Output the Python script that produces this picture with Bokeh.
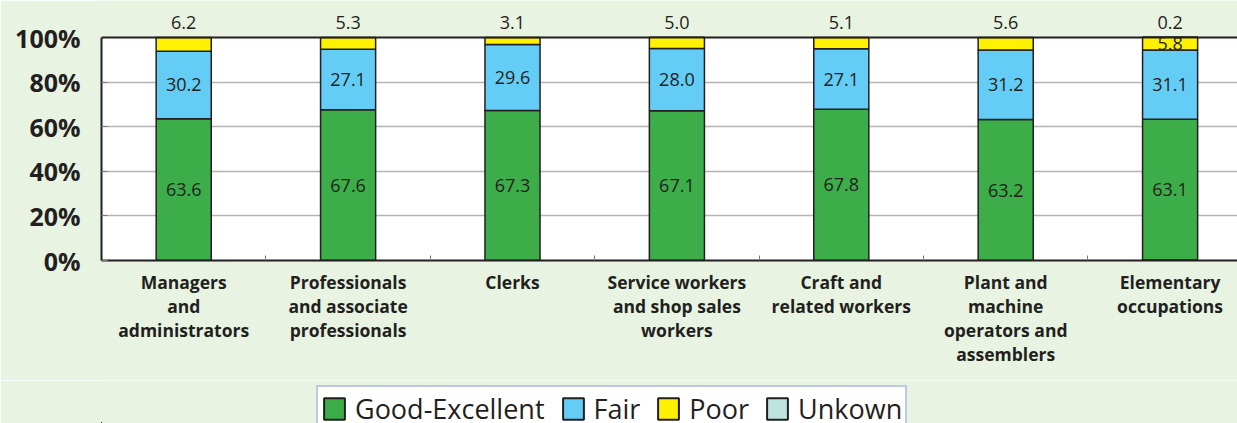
from bokeh.plotting import figure
from bokeh.layouts import column
from bokeh.models import (ColumnDataSource, FixedTicker, LabelSet, Legend, LegendItem,
                          Range1d, BoxAnnotation, Span)
from bokeh.core.properties import value
from bokeh.embed import file_html
from bokeh.resources import INLINE

# ---- data ----
categories = ["Managers\nand\nadministrators",
              "Professionals\nand associate\nprofessionals",
              "Clerks",
              "Service workers\nand shop sales\nworkers",
              "Craft and\nrelated workers",
              "Plant and\nmachine\noperators and\nassemblers",
              "Elementary\noccupations"]
good = [63.6, 67.6, 67.3, 67.1, 67.8, 63.2, 63.1]
fair = [30.2, 27.1, 29.6, 28.0, 27.1, 31.2, 31.1]
poor = [6.2, 5.3, 3.1, 5.0, 5.1, 5.6, 5.8]
unknown = [0.0, 0.0, 0.0, 0.0, 0.0, 0.0, 0.2]
series_names = ["Good-Excellent", "Fair", "Poor", "Unkown"]
y_ticks = [0, 20, 40, 60, 80, 100]
y_tick_labels = ["0%", "20%", "40%", "60%", "80%", "100%"]

BG = "#e8f3e2"
C_GOOD = "#3dad49"
C_FAIR = "#63cdf5"
C_POOR = "#fff200"
C_UNK = "#bfe4df"
DARK = "#231f20"
FONT = "Open Sans"

n = len(categories)
xs = [i + 0.5 for i in range(n)]
src = ColumnDataSource(dict(x=xs, good=good, fair=fair, poor=poor, unknown=unknown))

# frame spans canvas y 0..260; 100% sits 37px below the top
Y_TOP = 100 * 260 / 223
p = figure(width=1237, height=380, output_backend="svg", toolbar_location=None,
           x_range=Range1d(0, 6.91), y_range=Range1d(0, Y_TOP),
           min_border_left=101, min_border_top=0, min_border_right=0, min_border_bottom=120)
p.background_fill_color = BG
p.border_fill_color = BG
p.outline_line_color = None

# white plotting area 0..100 %
p.add_layout(BoxAnnotation(bottom=0, top=100, fill_color="white", fill_alpha=1,
                           line_color=None, level="image"))
p.add_layout(Span(location=100, dimension="width", line_color=DARK, line_width=2))

rs = p.vbar_stack(["unknown", "good", "fair", "poor"], x="x", width=0.335, source=src,
                  fill_color=[C_UNK, C_GOOD, C_FAIR, C_POOR], line_color=DARK, line_width=1.5)

# grid
p.xgrid.visible = False
p.ygrid.ticker = FixedTicker(ticks=[20, 40, 60, 80])
p.ygrid.grid_line_color = "#b4b4b4"
p.ygrid.grid_line_width = 1.5

# y axis
p.yaxis.ticker = FixedTicker(ticks=y_ticks)
p.yaxis.bounds = (0, 100)
p.yaxis.major_label_overrides = {t: l for t, l in zip(y_ticks, y_tick_labels)}
p.yaxis.major_label_text_font = FONT
p.yaxis.major_label_text_font_style = "bold"
p.yaxis.major_label_text_font_size = "25px"
p.yaxis.major_label_text_color = DARK
p.yaxis.major_label_standoff = 21
p.yaxis.major_tick_in = 6
p.yaxis.major_tick_out = 0
p.yaxis.major_tick_line_color = "#777777"
p.yaxis.minor_tick_line_color = None
p.yaxis.axis_line_color = DARK
p.yaxis.axis_line_width = 2

# x axis
p.xaxis.ticker = FixedTicker(ticks=xs, minor_ticks=[i for i in range(1, n)])
p.xaxis.major_label_overrides = {x: c for x, c in zip(xs, categories)}
p.xaxis.major_label_text_font = FONT
p.xaxis.major_label_text_font_style = "bold"
p.xaxis.major_label_text_font_size = "17.5px"
p.xaxis.major_label_text_color = DARK
p.xaxis.major_label_text_line_height = 1.0
p.xaxis.major_label_standoff = 9
p.xaxis.major_tick_in = 0
p.xaxis.major_tick_out = 0
p.xaxis.minor_tick_in = 5
p.xaxis.minor_tick_out = 0
p.xaxis.minor_tick_line_color = "#777777"
p.xaxis.axis_line_color = DARK
p.xaxis.axis_line_width = 2

# value labels
good_y = [u + g / 2 for u, g in zip(unknown, good)]
fair_y = [u + g + f / 2 for u, g, f in zip(unknown, good, fair)]
inner_poor_y = [u + g + f + pr / 2 for u, g, f, pr in zip(unknown, good, fair, poor)]
top_text = [f"{u:.1f}" if u > 0 else f"{pr:.1f}" for u, pr in zip(unknown, poor)]
inner_poor_text = [f"{pr:.1f}" if u > 0 else "" for u, pr in zip(unknown, poor)]

lab = ColumnDataSource(dict(
    x=xs, gy=good_y, gt=[f"{v:.1f}" for v in good],
    fy=fair_y, ft=[f"{v:.1f}" for v in fair],
    py=inner_poor_y, pt=inner_poor_text,
    ty=[100] * n, tt=top_text))

for ycol, tcol, yoff in [("gy", "gt", 0), ("fy", "ft", 0), ("py", "pt", 0), ("ty", "tt", 15)]:
    ls = LabelSet(x="x", y=ycol, text=tcol, source=lab, y_offset=yoff,
                  text_align="center", text_baseline="middle",
                  text_font=value(FONT), text_font_size="18px", text_color=DARK)
    p.add_layout(ls)

# ---- legend strip (separate figure; its bars lie outside its view) ----
q = figure(width=1237, height=43, output_backend="svg", toolbar_location=None,
           x_axis_location=None, y_axis_location=None,
           x_range=Range1d(100, 101), y_range=Range1d(1000, 1001),
           min_border=0, min_border_left=0, min_border_right=0,
           min_border_top=0, min_border_bottom=0)
q.grid.visible = False
q.outline_line_color = None
q.background_fill_color = BG
q.border_fill_color = BG
qr = q.vbar_stack(["good", "fair", "poor", "unknown"], x="x", width=0.335, source=src,
                  fill_color=[C_GOOD, C_FAIR, C_POOR, C_UNK], line_color=DARK, line_width=2)
items = [LegendItem(label=name, renderers=[r]) for name, r in zip(series_names, qr)]
legend = Legend(items=items, orientation="horizontal", location=(215, -9))
legend.label_text_font = FONT
legend.label_text_font_size = "27px"
legend.label_text_color = DARK
legend.glyph_width = 26
legend.glyph_height = 27
legend.label_height = 22
legend.label_standoff = 8
legend.spacing = 15
legend.padding = 3
legend.margin = 0
legend.border_line_color = "#7896d2"
legend.border_line_width = 2
legend.background_fill_color = "white"
legend.background_fill_alpha = 1
q.add_layout(legend, "center")

layout = column(p, q, spacing=0)
open("out.html", "w").write(file_html(layout, INLINE))
